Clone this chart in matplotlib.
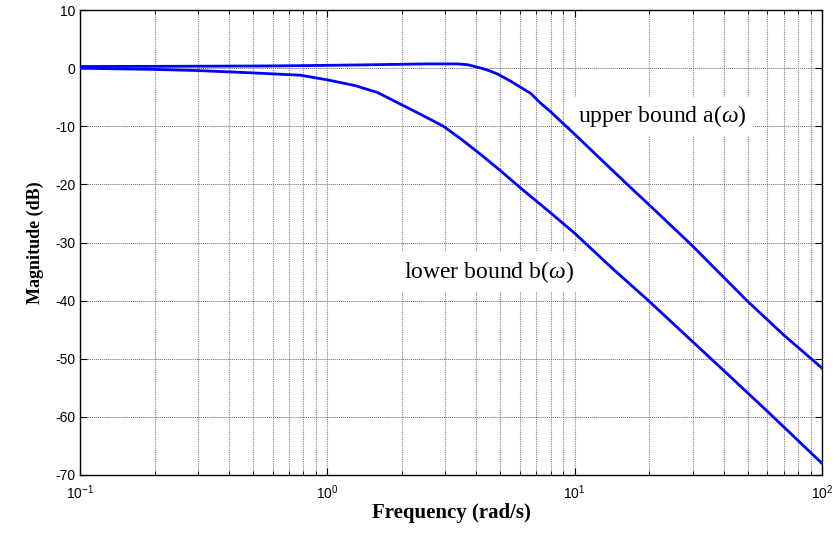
import numpy as np
import matplotlib
matplotlib.use("Agg")
import matplotlib.pyplot as plt
from matplotlib.ticker import LogLocator, MultipleLocator

plt.rcParams['font.family'] = ['Liberation Sans', 'DejaVu Sans']
plt.rcParams['mathtext.fontset'] = 'custom'
plt.rcParams['mathtext.rm'] = 'Liberation Sans'
plt.rcParams['mathtext.it'] = 'Liberation Serif:italic'
plt.rcParams['axes.unicode_minus'] = False

# values (rad/s, dB)
upper_freq = [0.1, 0.3, 0.6, 1.0, 1.5, 2.5, 3.36, 3.7, 4.16, 4.5, 4.88, 5.5, 6.0,
              6.63, 7.28, 8.0, 8.77, 10.2, 13, 16.9, 20, 30, 50, 70, 100]
upper_db = [0.3, 0.35, 0.4, 0.5, 0.6, 0.75, 0.75, 0.6, 0.05, -0.4, -1.0, -2.2, -3.2,
            -4.3, -6.0, -7.5, -9.1, -11.7, -16.0, -20.6, -23.5, -30.6, -40.1, -45.9, -51.6]

lower_freq = [0.1, 0.2, 0.3, 0.5, 0.78, 1.0, 1.3, 1.6, 1.98, 2.4, 2.95, 3.5, 4.16,
              5.0, 6.04, 8.0, 10, 14, 20, 40, 60, 100]
lower_db = [0.0, -0.2, -0.4, -0.8, -1.2, -2.0, -3.0, -4.2, -6.2, -8.0, -10.0, -12.3, -14.8,
            -17.6, -20.6, -24.9, -28.4, -34.2, -40.1, -52.0, -59.0, -68.0]

fig = plt.figure(figsize=(8.34, 5.34), dpi=100)
ax = fig.add_axes([0.096, 0.1105, 0.8896, 0.8705])

ax.semilogx(upper_freq, upper_db, color='#0000ff', lw=2.0, zorder=3)
ax.semilogx(lower_freq, lower_db, color='#0000ff', lw=2.0, zorder=3)

ax.set_xlim(0.1, 100)
ax.set_ylim(-70, 10)
ax.yaxis.set_major_locator(MultipleLocator(10))
ax.xaxis.set_major_locator(LogLocator(base=10))
ax.xaxis.set_minor_locator(LogLocator(base=10, subs=np.arange(2, 10)))

ax.grid(True, which='both', axis='x', color='0.5', ls=(0, (1, 1)), lw=0.8, zorder=1)
ax.grid(True, which='major', axis='y', color='0.4', ls=(0, (1, 1)), lw=0.7, zorder=1)

ax.tick_params(which='both', direction='in', top=True, right=True,
               labelsize=10, colors='black')
ax.tick_params(which='major', length=5)
ax.tick_params(which='minor', length=3)
ax.tick_params(axis='x', which='major', pad=6)
for s in ax.spines.values():
    s.set_linewidth(1.0)

ax.set_xlabel('Frequency (rad/s)', family='Liberation Serif', weight='bold',
              fontsize=15, labelpad=1)
ax.set_ylabel('Magnitude (dB)', family='Liberation Serif', weight='bold',
              fontsize=13, labelpad=8)

box = dict(facecolor='white', edgecolor='none', pad=5)
ax.text(10.3, -8.3, r'upper bound a($\omega$)', family='Liberation Serif',
        fontsize=17, va='center', ha='left', bbox=box, zorder=2)
ax.text(2.05, -35.0, r'lower bound b($\omega$)', family='Liberation Serif',
        fontsize=17, va='center', ha='left', bbox=box, zorder=2)

fig.savefig('out.png', dpi=100)
